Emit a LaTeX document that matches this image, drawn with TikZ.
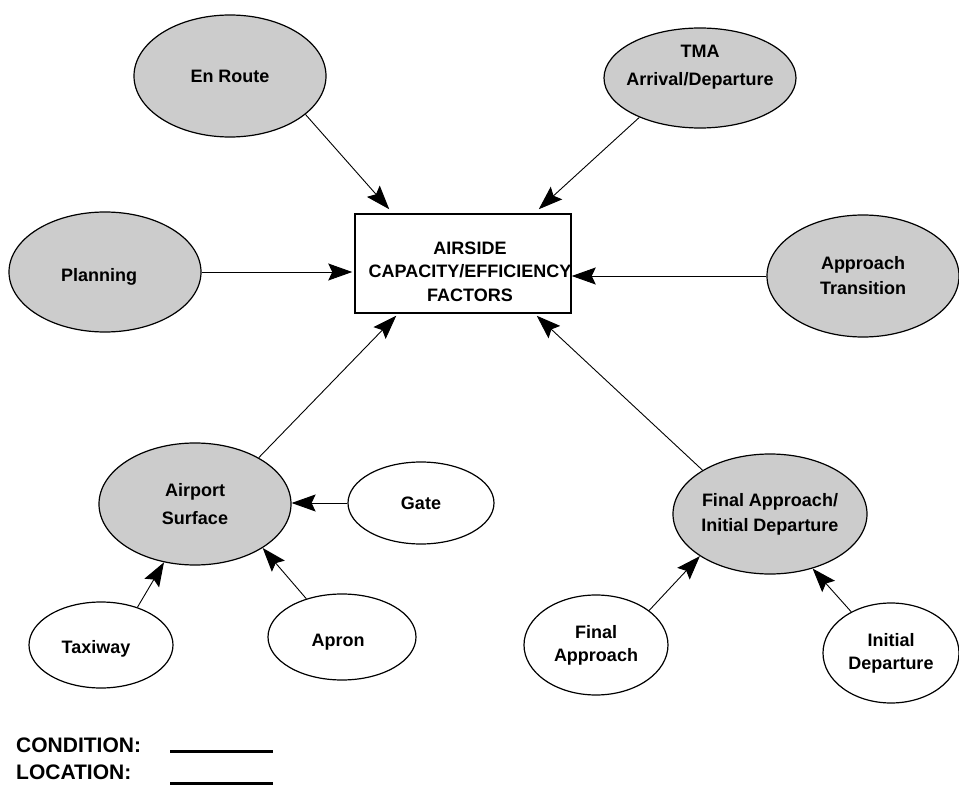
\documentclass[tikz,border=0pt]{standalone}
\usepackage{fontspec}
\setmainfont{Liberation Sans}
\usetikzlibrary{arrows.meta,shapes.geometric,calc}
\definecolor{fillgrey}{HTML}{CCCCCC}
\newcommand\dgfont{\fontsize{18}{25}\selectfont\bfseries}
\newcommand\dgfontwide{\fontsize{18}{28}\selectfont\bfseries}
\newcommand\dgfontbox{\fontsize{18}{23.5}\selectfont\bfseries}
\newcommand\dgfontlegend{\fontsize{21}{27}\selectfont\bfseries}
\tikzset{
  bigell/.style={ellipse, draw, line width=1.2pt, fill=fillgrey, inner sep=0pt, font=\dgfont, align=center},
  smallell/.style={ellipse, draw, line width=1.2pt, fill=white, inner sep=0pt, font=\dgfont, align=center},
  arr/.style={-{Stealth[length=24pt,width=17pt,inset=4pt]}, line width=0.9pt},
  legendtext/.style={anchor=base west, inner sep=0pt, font=\dgfontlegend},
  legendline/.style={line width=3pt}
}
\begin{document}
\begin{tikzpicture}[x=1pt,y=-1pt]
\useasboundingbox (0,0) rectangle (959,786);

% central box
\node[draw, line width=1.5pt, minimum width=216pt, minimum height=99pt, inner sep=0pt,
      label={[font=\dgfontbox, align=center, xshift=7pt, yshift=-8pt]center:AIRSIDE\\CAPACITY/EFFICIENCY\\FACTORS}]
      (box) at (463,263.5) {};

% grey ellipses
\node[bigell, minimum width=192pt, minimum height=122pt] (enroute) at (230,76) {En Route};
\node[bigell, minimum width=192pt, minimum height=100pt,
      label={[font=\dgfontwide, align=center, yshift=11pt]center:TMA\\Arrival/Departure}] (tma) at (700,78) {};
\node[bigell, minimum width=192pt, minimum height=120pt,
      label={[font=\dgfont, yshift=-5pt, xshift=-6pt]center:Planning}] (planning) at (105,272) {};
\node[bigell, minimum width=192pt, minimum height=122pt] (apptrans) at (863,276) {Approach\\Transition};
\node[bigell, minimum width=192pt, minimum height=122pt, font=\dgfontwide] (airsurf) at (195,504) {Airport\\Surface};
\node[bigell, minimum width=194pt, minimum height=120pt] (fafid) at (770,514) {Final Approach/\\Initial Departure};

% white ellipses
\node[smallell, minimum width=146pt, minimum height=82pt] (gate) at (421,503) {Gate};
\node[smallell, minimum width=144pt, minimum height=86pt,
      label={[font=\dgfont, xshift=-5pt, yshift=-4pt]center:Taxiway}] (taxiway) at (101,645) {};
\node[smallell, minimum width=148pt, minimum height=86pt,
      label={[font=\dgfont, xshift=-4pt, yshift=-5pt]center:Apron}] (apron) at (342,637) {};
\node[smallell, minimum width=144pt, minimum height=100pt, font=\fontsize{18}{23}\selectfont\bfseries] (finalapp) at (596,645) {Final\\Approach};
\node[smallell, minimum width=136pt, minimum height=100pt, font=\fontsize{18}{23}\selectfont\bfseries] (initdep) at (891,653) {Initial\\Departure};

% connectors
\draw[arr] (enroute.-27) -- ([xshift=35pt,yshift=4pt]box.north west);
\draw[arr] (tma.-147) -- ([xshift=-33pt,yshift=4pt]box.north east);
\draw[arr] (planning.east) -- ([xshift=-2pt]planning.east -| box.west);
\draw[arr] (apptrans.west) -- (apptrans.west -| box.east);
\draw[arr] (airsurf.36) -- ([xshift=42pt,yshift=-2pt]box.south west);
\draw[arr] (fafid.147) -- ([xshift=-35pt,yshift=-2pt]box.south east);
\draw[arr] (gate.west) -- (gate.west -| airsurf.east);
\draw[arr] (taxiway.46) -- (airsurf.-118);
\draw[arr] (apron.133) -- (airsurf.-33);
\draw[arr] (finalapp.33) -- (fafid.-149);
\draw[arr] (initdep.134) -- (fafid.-52);

% legend
\node[legendtext] (condition) at (16,752.5) {CONDITION:};
\node[legendtext] (location) at (16,779.5) {LOCATION:};
\coordinate (c1) at (170,751);
\coordinate (c2) at (273,751);
\coordinate (l1) at (170,783);
\coordinate (l2) at (273,783);
\draw[legendline] (c1) -- (c2);
\draw[legendline] (l1) -- (l2);
\end{tikzpicture}
\end{document}
